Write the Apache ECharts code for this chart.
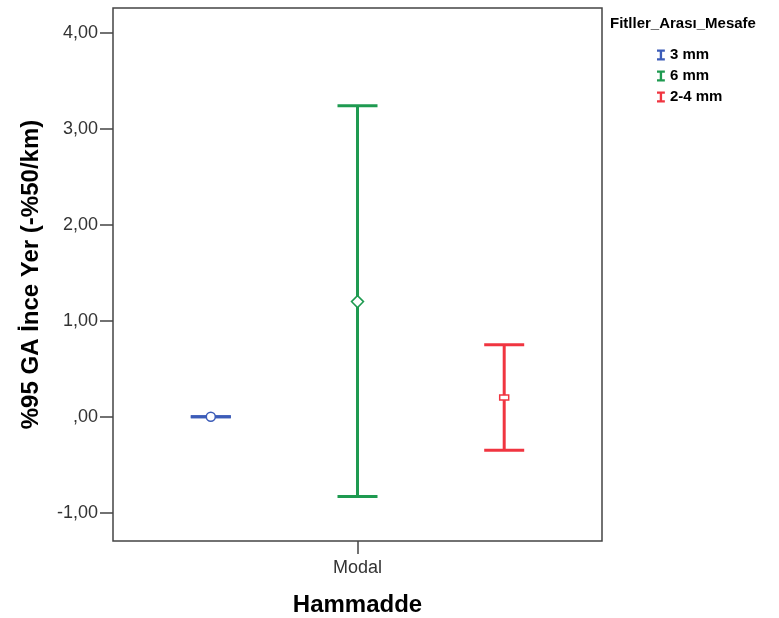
<!DOCTYPE html>
<html><head><meta charset="utf-8">
<script src="https://cdn.jsdelivr.net/npm/echarts@6/dist/echarts.min.js"></script>
<style>html,body{margin:0;padding:0;background:#fff}#c{width:779px;height:618px}</style>
</head><body><div id="c"></div>
<script>
const categories = ['Modal'];
const seriesNames = ['3 mm', '6 mm', '2-4 mm'];
const means  = [0, 1.20, 0.20];
const lowers = [0, -0.83, -0.35];
const uppers = [0, 3.24, 0.75];
const yTicks = [-1, 0, 1, 2, 3, 4];
const xTicks = [0];

const colors = ['#3C5CB8', '#1E9A50', '#F03540'];
const offsets = [-0.30, 0, 0.30];
const markers = ['circle', 'diamond', 'rect'];

function fmt(v) {
  let s = Math.abs(v).toFixed(2).replace('.', ',');
  if (s.startsWith('0,')) s = s.slice(1);
  return (v < 0 ? '-' : '') + s;
}

function renderItem(params, api) {
  const si = params.seriesIndex;
  const lo = api.value(1), hi = api.value(2), mean = api.value(3);
  const bw = api.size([1, 0])[0];
  const base = api.coord([api.value(0), mean]);
  const x = base[0] + offsets[si] * bw;
  const yLo = api.coord([api.value(0), lo])[1];
  const yHi = api.coord([api.value(0), hi])[1];
  const yM = base[1];
  const half = 20;
  const c = colors[si];
  const ls = { stroke: c, lineWidth: 3 };
  const children = [
    { type: 'line', shape: { x1: x, y1: yHi, x2: x, y2: yLo }, style: ls },
    { type: 'line', shape: { x1: x - half, y1: yHi, x2: x + half, y2: yHi }, style: ls },
    { type: 'line', shape: { x1: x - half, y1: yLo, x2: x + half, y2: yLo }, style: ls }
  ];
  const ms = { fill: '#fff', stroke: c, lineWidth: 1.5 };
  if (markers[si] === 'circle') {
    children.push({ type: 'circle', shape: { cx: x, cy: yM, r: 4.5 }, style: ms });
  } else if (markers[si] === 'diamond') {
    children.push({ type: 'polygon', shape: { points: [[x, yM - 6], [x + 6, yM], [x, yM + 6], [x - 6, yM]] }, style: ms });
  } else {
    children.push({ type: 'rect', shape: { x: x - 4.5, y: yM - 2.5, width: 9, height: 5 }, style: ms });
  }
  return { type: 'group', children };
}

const series = seriesNames.map((name, i) => ({
  name,
  type: 'custom',
  renderItem,
  itemStyle: { color: colors[i] },
  encode: { x: 0, y: [1, 2, 3] },
  data: categories.map((cat, k) => [k, lowers[i], uppers[i], means[i]])
}));

const FF = 'Liberation Sans, Arial, sans-serif';
const chart = echarts.init(document.getElementById('c'), null, { renderer: 'canvas' });
chart.setOption({
  animation: false,
  backgroundColor: '#fff',
  textStyle: { fontFamily: FF },
  title: {
    text: 'Fitller_Arası_Mesafe',
    left: 610, top: 16, padding: 0,
    textStyle: { fontSize: 15, fontWeight: 'bold', color: '#000', fontFamily: FF }
  },
  legend: {
    orient: 'vertical',
    left: 657, top: 47, padding: 0,
    itemWidth: 10, itemHeight: 11, itemGap: 5,
    icon: 'path://M0,0 L10,0 L10,3 L6.5,3 L6.5,11 L10,11 L10,14 L0,14 L0,11 L3.5,11 L3.5,3 L0,3 Z',
    textStyle: { fontSize: 15, fontWeight: 'bold', color: '#000', lineHeight: 16, padding: [0, 0, 0, -1] },
    data: seriesNames
  },
  grid: {
    left: 113, right: 177, top: 8, bottom: 77,
    containLabel: false, outerBoundsMode: 'none',
    show: true, borderColor: '#444', borderWidth: 1.5, backgroundColor: '#fff'
  },
  xAxis: {
    type: 'value',
    min: -0.5, max: 0.5,
    name: 'Hammadde',
    nameLocation: 'middle',
    nameGap: 52,
    nameTextStyle: { fontSize: 24, fontWeight: 'bold', color: '#000' },
    axisLine: { show: false, onZero: false },
    axisTick: { show: true, length: 13, customValues: xTicks, lineStyle: { color: '#444', width: 1.5 } },
    axisLabel: { fontSize: 18, color: '#333', margin: 18, customValues: xTicks, formatter: v => categories[Math.round(v)] || '' },
    splitLine: { show: false }
  },
  yAxis: {
    type: 'value',
    min: -1.295, max: 4.26,
    name: '%95 GA İnce Yer (-%50/km)',
    nameLocation: 'middle',
    nameGap: 70,
    nameTextStyle: { fontSize: 24, fontWeight: 'bold', color: '#000' },
    axisLine: { show: false, onZero: false },
    axisTick: { show: true, length: 13, customValues: yTicks, lineStyle: { color: '#444', width: 1.5 } },
    axisLabel: { fontSize: 18, color: '#333', margin: 15, customValues: yTicks, formatter: fmt },
    splitLine: { show: false }
  },
  series
});
</script>
</body></html>
